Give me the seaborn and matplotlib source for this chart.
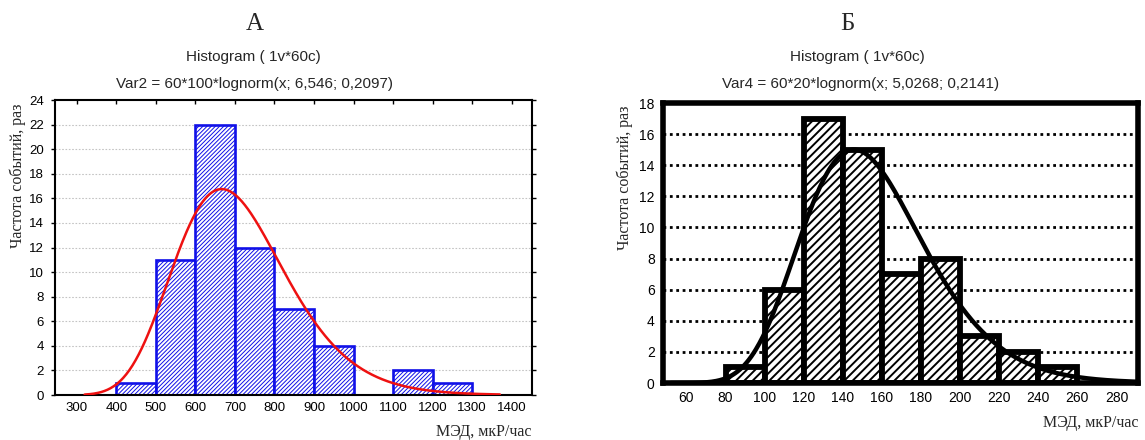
import numpy as np
import pandas as pd
import matplotlib
matplotlib.use("Agg")
import matplotlib.pyplot as plt
import seaborn as sns

# ---- data ----
edges_a = [400, 500, 600, 700, 800, 900, 1000, 1100, 1200, 1300]
counts_a = [1, 11, 22, 12, 7, 4, 0, 2, 1]
fit_a = dict(n=60, width=100, mu=6.546, sigma=0.2097)   # Var2 = 60*100*lognorm(x; 6,546; 0,2097)
curve_a_range = (320, 1370)

edges_b = [80, 100, 120, 140, 160, 180, 200, 220, 240, 260]
counts_b = [1, 6, 17, 15, 7, 8, 3, 2, 1]
fit_b = dict(n=60, width=20, mu=5.0268, sigma=0.2141)  # Var4 = 60*20*lognorm(x; 5,0268; 0,2141)
curve_b_range = (52, 290)

xticks_a = list(range(300, 1401, 100))
yticks_a = list(range(0, 25, 2))
xticks_b = list(range(60, 281, 20))
yticks_b = list(range(0, 19, 2))

title_a = "А"
title_b = "Б"
sub1 = "Histogram ( 1v*60c)"
sub2_a = "Var2 = 60*100*lognorm(x; 6,546; 0,2097)"
sub2_b = "Var4 = 60*20*lognorm(x; 5,0268; 0,2141)"
ylabel = "Частота событий, раз"
xlabel = "МЭД, мкР/час"


def lognorm_curve(fit, lo, hi):
    x = np.linspace(lo, hi, 400)
    y = fit["n"] * fit["width"] / (x * fit["sigma"] * np.sqrt(2 * np.pi)) * \
        np.exp(-(np.log(x) - fit["mu"]) ** 2 / (2 * fit["sigma"] ** 2))
    return pd.DataFrame({"x": x, "y": y})


sns.set_style("white")
plt.rcParams["font.family"] = ["Liberation Sans", "DejaVu Sans"]

fig = plt.figure(figsize=(11.45, 4.4), dpi=100)
W, H = 1145, 440


def px_axes(l, t, r, b):
    return fig.add_axes([l / W, 1 - b / H, (r - l) / W, (b - t) / H])


# ---------------- Panel A ----------------
axA = px_axes(55, 100, 531.5, 395)
centers_a = [(edges_a[i] + edges_a[i + 1]) / 2 for i in range(len(counts_a))]
with plt.rc_context({"hatch.linewidth": 0.7}):
    sns.histplot(x=centers_a, weights=counts_a, bins=edges_a, ax=axA,
                 facecolor="white", edgecolor="#1010e8", linewidth=1.9,
                 hatch="////////", alpha=1, zorder=2)
ca = lognorm_curve(fit_a, *curve_a_range)
sns.lineplot(data=ca, x="x", y="y", ax=axA, color="#ee1111", linewidth=1.8, zorder=3)
axA.set_xlim(245, 1450)
axA.set_ylim(0, 24)
axA.set_xticks(xticks_a)
axA.set_yticks(yticks_a)
for yv in yticks_a[1:-1]:
    axA.axhline(yv, color="#c4c4c4", linestyle=(0, (1.5, 1.5)), linewidth=0.8, zorder=0)
for s in axA.spines.values():
    s.set_linewidth(1.5)
    s.set_color("black")
axA.tick_params(axis="both", which="both", labelsize=9.5, colors="black",
                direction="in", length=3, width=1, top=True, right=True, bottom=False, left=True, pad=5)
axA.tick_params(axis="y", direction="out")
axA.set_xlabel("")
axA.set_ylabel("")

# ---------------- Panel B ----------------
axB = px_axes(663, 103, 1138, 383)
centers_b = [(edges_b[i] + edges_b[i + 1]) / 2 for i in range(len(counts_b))]
with plt.rc_context({"hatch.linewidth": 1.4}):
    sns.histplot(x=centers_b, weights=counts_b, bins=edges_b, ax=axB,
                 facecolor="white", edgecolor="black", linewidth=4.2,
                 hatch="////", alpha=1, zorder=2)
cb = lognorm_curve(fit_b, *curve_b_range)
sns.lineplot(data=cb, x="x", y="y", ax=axB, color="black", linewidth=3.2, zorder=3)
axB.set_xlim(48, 291)
axB.set_ylim(0, 18)
axB.set_xticks(xticks_b)
axB.set_yticks(yticks_b)
for yv in yticks_b[1:-1]:
    axB.axhline(yv, color="black", linestyle=(0, (1, 1.3)), linewidth=2.0, zorder=0)
for s in axB.spines.values():
    s.set_linewidth(4)
    s.set_color("black")
axB.tick_params(axis="both", which="both", labelsize=10, colors="black",
                length=0, pad=6)
axB.set_xlabel("")
axB.set_ylabel("")

# ---------------- texts ----------------
serif = ["Liberation Serif", "DejaVu Serif"]
fig.text(255 / W, 1 - 24 / H, title_a, family=serif, fontsize=18, ha="center", va="center")
fig.text(253 / W, 1 - 57 / H, sub1, fontsize=11, ha="center", va="center")
fig.text(255 / W, 1 - 84 / H, sub2_a, fontsize=11, ha="center", va="center")

fig.text(847 / W, 1 - 24 / H, title_b, family=serif, fontsize=18, ha="center", va="center")
fig.text(857 / W, 1 - 57 / H, sub1, fontsize=11, ha="center", va="center")
fig.text(861 / W, 1 - 84 / H, sub2_b, fontsize=11, ha="center", va="center")

fig.text(18 / W, 1 - 176 / H, ylabel, family=serif, fontsize=11.5, rotation=90,
         ha="center", va="center")
fig.text(625 / W, 1 - 178 / H, ylabel, family=serif, fontsize=11.5, rotation=90,
         ha="center", va="center")
fig.text(484 / W, 1 - 432 / H, xlabel, family=serif, fontsize=11.5, ha="center", va="center")
fig.text(1091 / W, 1 - 423 / H, xlabel, family=serif, fontsize=11.5, ha="center", va="center")

fig.savefig("out.png", dpi=100, facecolor="white")
